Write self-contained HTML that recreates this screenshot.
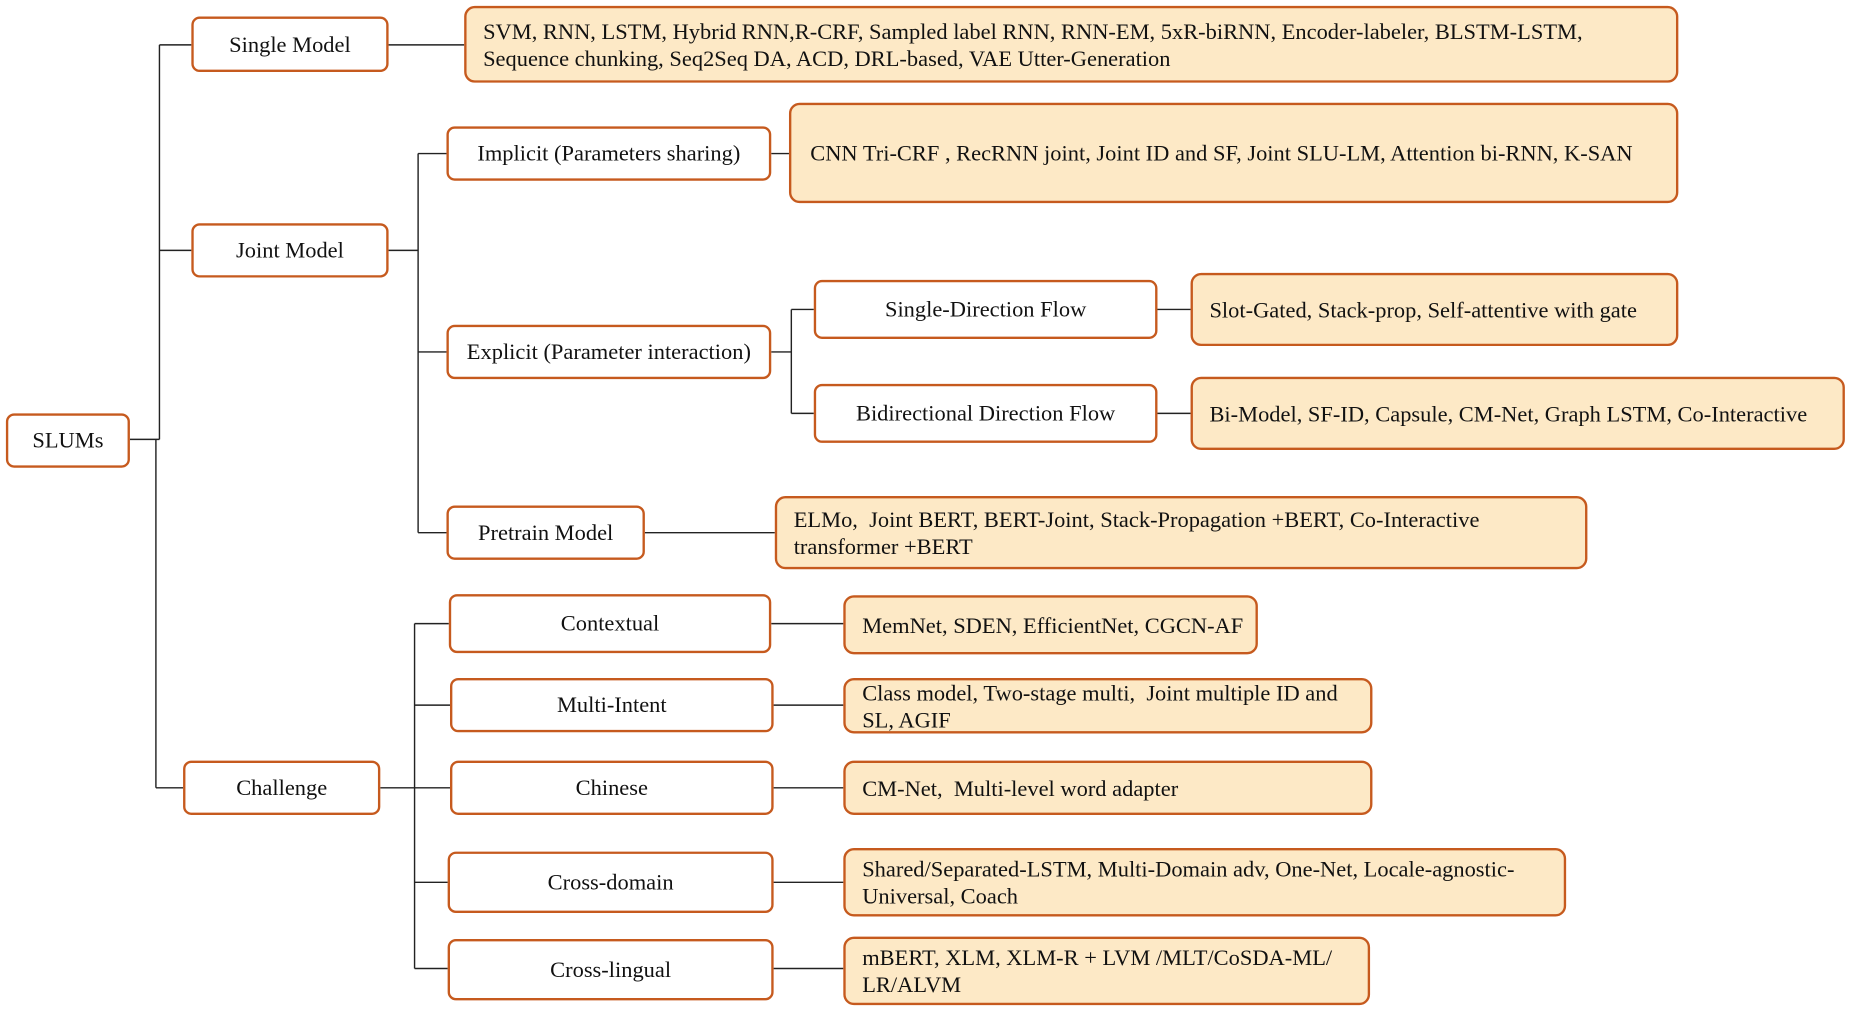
<!DOCTYPE html>
<html><head><meta charset="utf-8"><style>
html,body{margin:0;padding:0;background:#fff;width:1852px;height:1012px;overflow:hidden}
#w{position:absolute;left:0;top:0;width:1568px;height:857px;transform:scale(1.1811);transform-origin:0 0;font-family:"Liberation Serif",serif;font-size:19px;color:#111}
.n{position:absolute;box-sizing:border-box;border:2px solid #c65a1e;border-radius:7px;background:#fff;display:flex;align-items:center;justify-content:center;text-align:center;white-space:nowrap;padding-top:2px}
.l{position:absolute;box-sizing:border-box;border:2px solid #c65a1e;border-radius:9px;background:#fde9c6;display:flex;align-items:center;padding:2px 14px 0;line-height:23px;white-space:nowrap}
svg{position:absolute;left:0;top:0}
</style></head><body><div id="w">
<svg width="1568" height="857"><g stroke="#222" stroke-width="1.2" fill="none">
<path d="M110 372H135M135 38V372M132 372V667M135 38H162M135 212H162M132 667H155"/>
<path d="M329 38H393"/>
<path d="M329 212H354M354 130V451M354 130H378M354 298H378M354 451H378"/>
<path d="M653 130H668"/>
<path d="M653 298H670M670 262V350M670 262H689M670 350H689"/>
<path d="M980 262H1008M980 350H1008"/>
<path d="M546 451H656"/>
<path d="M322 667H351M351 528V820M351 528H380M351 597H381M351 667H381M351 747H379M351 820H379"/>
<path d="M653 528H714M655 597H714M655 667H714M655 747H714M655 820H714"/>
</g></svg>
<div class="n" style="left:5px;top:350px;width:105px;height:46px">SLUMs</div>
<div class="n" style="left:162px;top:14px;width:167px;height:47px">Single Model</div>
<div class="n" style="left:162px;top:189px;width:167px;height:46px">Joint Model</div>
<div class="n" style="left:155px;top:644px;width:167px;height:46px">Challenge</div>
<div class="n" style="left:378px;top:107px;width:275px;height:46px">Implicit (Parameters sharing)</div>
<div class="n" style="left:378px;top:275px;width:275px;height:46px">Explicit (Parameter interaction)</div>
<div class="n" style="left:378px;top:428px;width:168px;height:46px">Pretrain Model</div>
<div class="n" style="left:689px;top:237px;width:291px;height:50px">Single-Direction Flow</div>
<div class="n" style="left:689px;top:325px;width:291px;height:50px">Bidirectional Direction Flow</div>
<div class="n" style="left:380px;top:503px;width:273px;height:50px">Contextual</div>
<div class="n" style="left:381px;top:574px;width:274px;height:46px">Multi-Intent</div>
<div class="n" style="left:381px;top:644px;width:274px;height:46px">Chinese</div>
<div class="n" style="left:379px;top:721px;width:276px;height:52px">Cross-domain</div>
<div class="n" style="left:379px;top:795px;width:276px;height:52px">Cross-lingual</div>
<div class="l" style="left:393px;top:5px;width:1028px;height:65px">SVM, RNN, LSTM, Hybrid RNN,R-CRF, Sampled label RNN, RNN-EM, 5xR-biRNN, Encoder-labeler, BLSTM-LSTM,<br>Sequence chunking, Seq2Seq DA, ACD, DRL-based, VAE Utter-Generation</div>
<div class="l" style="left:668px;top:87px;width:753px;height:85px;padding-left:16px">CNN Tri-CRF , RecRNN joint, Joint ID and SF, Joint SLU-LM, Attention bi-RNN, K-SAN</div>
<div class="l" style="left:1008px;top:231px;width:413px;height:62px">Slot-Gated, Stack-prop, Self-attentive with gate</div>
<div class="l" style="left:1008px;top:319px;width:554px;height:62px">Bi-Model, SF-ID, Capsule, CM-Net, Graph LSTM, Co-Interactive</div>
<div class="l" style="left:656px;top:420px;width:688px;height:62px">ELMo,&nbsp; Joint BERT, BERT-Joint, Stack-Propagation +BERT, Co-Interactive<br>transformer +BERT</div>
<div class="l" style="left:714px;top:504px;width:351px;height:50px">MemNet, SDEN, EfficientNet, CGCN-AF</div>
<div class="l" style="left:714px;top:574px;width:448px;height:47px">Class model, Two-stage multi,&nbsp; Joint multiple ID and<br>SL, AGIF</div>
<div class="l" style="left:714px;top:644px;width:448px;height:46px">CM-Net,&nbsp; Multi-level word adapter</div>
<div class="l" style="left:714px;top:718px;width:612px;height:58px">Shared/Separated-LSTM, Multi-Domain adv, One-Net, Locale-agnostic-<br>Universal, Coach</div>
<div class="l" style="left:714px;top:793px;width:446px;height:58px">mBERT, XLM, XLM-R + LVM /MLT/CoSDA-ML/<br>LR/ALVM</div>
</div></body></html>
